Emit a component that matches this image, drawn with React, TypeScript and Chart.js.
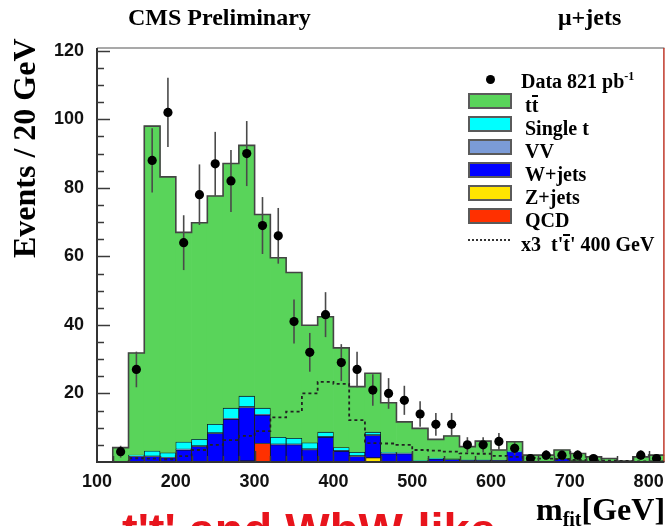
import React, { useEffect, useRef } from "react";
import { Chart, registerables } from "chart.js";

Chart.register(...registerables);

// ---------------- data ----------------
const binEdges = [100, 120, 140, 160, 180, 200, 220, 240, 260, 280, 300, 320, 340, 360, 380, 400, 420, 440, 460, 480, 500, 520, 540, 560, 580, 600, 620, 640, 660, 680, 700, 720, 740, 760, 780, 800, 820];

const ttbar = [0, 4.2, 29.8, 94.8, 80.5, 61.2, 63.2, 66.6, 71.4, 73.2, 56.5, 52.4, 48.4, 34.3, 33.7, 29.1, 19.2, 17.2, 14.5, 9.0, 9.4, 5.5, 6.7, 3.9, 5.5, 3.0, 2.7, 1.7, 1.7, 2.5, 2.1, 1.2, 0.7, 0.3, 1.5, 1.7];
const singleTop = [0, 0, 0.3, 1.5, 1.4, 2.1, 1.9, 2.5, 3.0, 3.1, 1.8, 2.0, 1.7, 1.8, 1.3, 0.9, 1.0, 0.8, 0.3, 0.2, 0.1, 0.2, 0.2, 0.1, 0.1, 0, 0.2, 0, 0, 0, 0, 0, 0, 0, 0, 0];
const diboson = [0, 0, 0.1, 0.1, 0.1, 0.2, 0.2, 0.2, 0.2, 0.2, 0.2, 0.2, 0.2, 0.2, 0.2, 0.2, 0.2, 0.2, 0.1, 0.1, 0, 0, 0, 0, 0, 0, 0, 0, 0, 0, 0, 0, 0, 0, 0, 0];
const wJets = [0, 0, 1.6, 1.6, 1.2, 3.5, 4.5, 8.3, 12.5, 15.6, 8.3, 5.0, 5.0, 3.6, 7.2, 3.1, 1.6, 6.5, 2.4, 2.4, 0.3, 0.9, 0.7, 0.5, 0.5, 0.5, 3.0, 0.3, 0.3, 1.0, 0.4, 0.3, 0.3, 0, 0, 0.3];
const zJets = [0, 0, 0, 0, 0, 0, 0, 0, 0, 0.3, 0, 0, 0, 0, 0, 0, 0, 1.2, 0, 0, 0, 0, 0, 0, 0, 0, 0, 0, 0, 0, 0, 0, 0, 0, 0, 0];
const qcd = [0, 0, 0, 0, 0, 0, 0, 0, 0, 0, 5.4, 0, 0, 0, 0, 0, 0, 0, 0, 0, 0, 0, 0, 0, 0, 0, 0, 0, 0, 0, 0, 0, 0, 0, 0, 0];
const signalX3 = [0, 0, 1.1, 1.0, 0.8, 1.7, 3.5, 5.0, 6.4, 7.6, 9.0, 13.0, 14.7, 20.0, 23.4, 22.8, 12.2, 5.5, 5.4, 5.0, 3.5, 3.3, 3.0, 2.5, 2.4, 1.8, 1.5, 1.2, 1.0, 0.8, 0.6, 0.5, 0.4, 0.3, 0.2, 0.2];
const dataCounts = [0, 3, 27, 88, 102, 64, 78, 87, 82, 90, 69, 66, 41, 32, 43, 29, 27, 21, 20, 18, 14, 11, 11, 5, 5, 6, 4, 1, 2, 2, 2, 1, 0, 0, 2, 1];

const xTickValues = [100, 200, 300, 400, 500, 600, 700, 800];
const yTickValues = [20, 40, 60, 80, 100, 120];

// ---------------- styling ----------------
const SERIF = '"Liberation Serif", "Times New Roman", Times, serif';
const SANS = '"Liberation Sans", Arial, Helvetica, sans-serif';
const C_TT = "#59d45a";
const C_ST = "#00ffff";
const C_VV = "#7b9bd7";
const C_W = "#0000ff";
const C_Z = "#ffe400";
const C_QCD = "#ff3000";

const centers = binEdges.slice(0, -1).map((e, i) => (e + binEdges[i + 1]) / 2);
const totals = centers.map((_, i) => qcd[i] + zJets[i] + wJets[i] + diboson[i] + singleTop[i] + ttbar[i]);
const stepPoints = (vals: number[]) => [
  ...vals.map((v, i) => ({ x: binEdges[i], y: v })),
  { x: binEdges[binEdges.length - 1], y: vals[vals.length - 1] },
];

function barSet(label: string, values: number[], color: string, bw: number) {
  return {
    type: "bar" as const,
    label,
    data: values.map((v, i) => ({ x: centers[i], y: v })),
    backgroundColor: color,
    borderColor: "#141414",
    borderWidth: bw,
    borderSkipped: false,
    barPercentage: 1,
    categoryPercentage: 1,
    stack: "mc",
  };
}

const DATA_INDEX = 8;

const errorBarPlugin = {
  id: "errbars",
  beforeDatasetDraw(chart: any, args: any) {
    if (args.index !== DATA_INDEX) return;
    const { ctx, scales } = chart;
    const x = scales.x, y = scales.y;
    ctx.save();
    ctx.strokeStyle = "#4a4a4a";
    ctx.lineWidth = 1.6;
    dataCounts.forEach((n, i) => {
      if (n <= 0) return;
      const e = Math.sqrt(n);
      const px = x.getPixelForValue(centers[i]);
      ctx.beginPath();
      ctx.moveTo(px, y.getPixelForValue(Math.max(0, n - e)));
      ctx.lineTo(px, y.getPixelForValue(n + e));
      ctx.stroke();
    });
    ctx.restore();
  },
};

const framePlugin = {
  id: "frame",
  afterDatasetsDraw(chart: any) {
    const { ctx, chartArea: a, scales } = chart;
    const x = scales.x, y = scales.y;
    const seg = (x1: number, y1: number, x2: number, y2: number) => {
      ctx.beginPath();
      ctx.moveTo(x1, y1);
      ctx.lineTo(x2, y2);
      ctx.stroke();
    };
    ctx.save();
    ctx.lineWidth = 1.5;
    ctx.strokeStyle = "#8c8c8c";
    seg(a.left, a.top, a.right, a.top);
    ctx.strokeStyle = "#c0392b";
    seg(a.right - 0.5, a.top, a.right - 0.5, a.bottom);
    ctx.strokeStyle = "#333";
    ctx.lineWidth = 2;
    seg(a.left, a.top, a.left, a.bottom + 1);
    seg(a.left, a.bottom, a.right, a.bottom);
    ctx.lineWidth = 1.5;
    ctx.strokeStyle = "#3a3a3a";
    for (let v = 5; v <= 120; v += 5) {
      const py = Math.round(y.getPixelForValue(v)) + 0.5;
      const major = yTickValues.includes(v);
      seg(a.left, py, a.left + (major ? 13 : 7), py);
    }
    for (let v = 120; v <= 800; v += 20) {
      const px = Math.round(x.getPixelForValue(v)) + 0.5;
      const major = xTickValues.includes(v);
      seg(px, a.bottom, px, a.bottom - (major ? 11 : 6));
    }
    ctx.restore();
  },
};

export default function App() {
  const ref = useRef<HTMLCanvasElement>(null);

  useEffect(() => {
    const datasets: any[] = [
      barSet("QCD", qcd, C_QCD, 0.8),
      barSet("Z+jets", zJets, C_Z, 0.8),
      barSet("W+jets", wJets, C_W, 0.8),
      barSet("VV", diboson, C_VV, 0.6),
      barSet("Single t", singleTop, C_ST, 0.8),
      barSet("tt", ttbar, C_TT, 0),
      {
        type: "line",
        label: "outline",
        data: stepPoints(totals),
        stepped: "before",
        borderColor: "#444",
        borderWidth: 1.6,
        pointRadius: 0,
        fill: false,
        stack: "outline",
        order: -1,
      },
      {
        type: "line",
        label: "x3 t't' 400 GeV",
        data: stepPoints(signalX3),
        stepped: "before",
        borderColor: "#222",
        borderWidth: 1.8,
        borderDash: [3, 3],
        pointRadius: 0,
        fill: false,
        stack: "signal",
        order: -2,
      },
      {
        type: "scatter",
        label: "Data",
        data: dataCounts
          .map((n, i) => ({ x: centers[i], y: n }))
          .filter((p) => p.y > 0),
        backgroundColor: "#000",
        borderWidth: 0,
        pointRadius: 4.6,
        showLine: false,
        stack: "data",
        order: -3,
      },
    ];

    const chart = new Chart(ref.current as HTMLCanvasElement, {
      type: "bar",
      data: { datasets },
      plugins: [errorBarPlugin, framePlugin],
      options: {
        responsive: false,
        animation: false,
        events: [],
        layout: { padding: { top: 48, right: 3, left: 0, bottom: 0 } },
        plugins: { legend: { display: false }, tooltip: { enabled: false } },
        scales: {
          x: {
            type: "linear",
            min: 100,
            max: 820,
            stacked: true,
            offset: false,
            grid: { display: false, offset: false },
            border: { display: false },
            afterBuildTicks: (s: any) => {
              s.ticks = xTickValues.map((v) => ({ value: v }));
            },
            afterFit: (s: any) => {
              s.height = 64;
            },
            ticks: {
              color: "#111",
              padding: 1,
              maxRotation: 0,
              autoSkip: false,
              font: { family: SANS, size: 18, weight: "bold" },
            },
          },
          y: {
            type: "linear",
            min: 0,
            max: 120.8,
            stacked: true,
            grid: { display: false },
            border: { display: false },
            afterBuildTicks: (s: any) => {
              s.ticks = yTickValues.map((v) => ({ value: v }));
            },
            afterFit: (s: any) => {
              s.width = 97;
            },
            ticks: {
              color: "#111",
              padding: 5,
              font: { family: SANS, size: 18, weight: "bold" },
            },
          },
        },
      } as any,
    });
    return () => chart.destroy();
  }, []);

  const legendItems = [
    { color: C_TT, label: <>t<Bar>t</Bar></> },
    { color: C_ST, label: <>Single t</> },
    { color: C_VV, label: <>VV</> },
    { color: C_W, label: <>W+jets</> },
    { color: C_Z, label: <>Z+jets</> },
    { color: C_QCD, label: <>QCD</> },
  ];

  const legendText: React.CSSProperties = {
    position: "absolute",
    fontFamily: SERIF,
    fontWeight: "bold",
    fontSize: 20,
    lineHeight: "22px",
    whiteSpace: "nowrap",
    color: "#000",
  };

  return (
    <div style={{ position: "fixed", left: 0, top: 0, width: 669, height: 526, overflow: "hidden", background: "#fff" }}>
      <canvas ref={ref} width={669} height={526} style={{ position: "absolute", left: 0, top: 0, width: 669, height: 526 }} />

      {/* header */}
      <div style={{ position: "absolute", left: 128, top: 5, fontFamily: SERIF, fontWeight: "bold", fontSize: 24, lineHeight: "24px", whiteSpace: "nowrap" }}>
        CMS Preliminary
      </div>
      <div style={{ position: "absolute", left: 558, top: 5, fontFamily: SERIF, fontWeight: "bold", fontSize: 24, lineHeight: "24px", whiteSpace: "nowrap" }}>
        μ+jets
      </div>

      {/* y title */}
      <div
        style={{
          position: "absolute",
          left: 8,
          top: 258,
          transform: "rotate(-90deg)",
          transformOrigin: "0 0",
          fontFamily: SERIF,
          fontWeight: "bold",
          fontSize: 32,
          lineHeight: "32px",
          whiteSpace: "nowrap",
        }}
      >
        Events / 20 GeV
      </div>

      {/* legend */}
      <div style={{ position: "absolute", left: 486, top: 75, width: 9, height: 9, borderRadius: "50%", background: "#000" }} />
      <div style={{ ...legendText, left: 521, top: 70 }}>
        Data 821 pb<span style={{ position: "relative", top: -8, fontSize: 12 }}>-1</span>
      </div>
      {legendItems.map((it, i) => (
        <React.Fragment key={i}>
          <div
            style={{
              position: "absolute",
              left: 468,
              top: 101 + i * 23 - 8,
              width: 44,
              height: 16,
              boxSizing: "border-box",
              border: "2px solid #5a5a5a",
              background: it.color,
            }}
          />
          <div style={{ ...legendText, left: 525, top: 101 + i * 23 + 4 - 11 }}>{it.label}</div>
        </React.Fragment>
      ))}
      <div style={{ position: "absolute", left: 468, top: 239, width: 42, height: 0, borderTop: "2px dotted #333" }} />
      <div style={{ ...legendText, left: 521, top: 233 }}>
        x3{"\u00a0\u00a0"}t'<Bar>t</Bar>' 400 GeV
      </div>

      {/* bottom red slide title (cut) */}
      <div style={{ position: "absolute", left: 122, top: 507, fontFamily: SANS, fontWeight: "bold", fontSize: 47, lineHeight: "46px", color: "#e8141c", whiteSpace: "nowrap" }}>
        t't' and WbW-like
      </div>

      {/* x title */}
      <div style={{ position: "absolute", left: 536, top: 493, fontFamily: SERIF, fontWeight: "bold", fontSize: 32, lineHeight: "32px", whiteSpace: "nowrap", background: "transparent" }}>
        m<span style={{ position: "relative", top: 6, fontSize: 20 }}>fit</span>[GeV]
      </div>
    </div>
  );
}

function Bar({ children }: { children: React.ReactNode }) {
  return (
    <span style={{ position: "relative", display: "inline-block" }}>
      {children}
      <span style={{ position: "absolute", left: 0, right: 0, top: 1, borderTop: "2px solid #000" }} />
    </span>
  );
}
